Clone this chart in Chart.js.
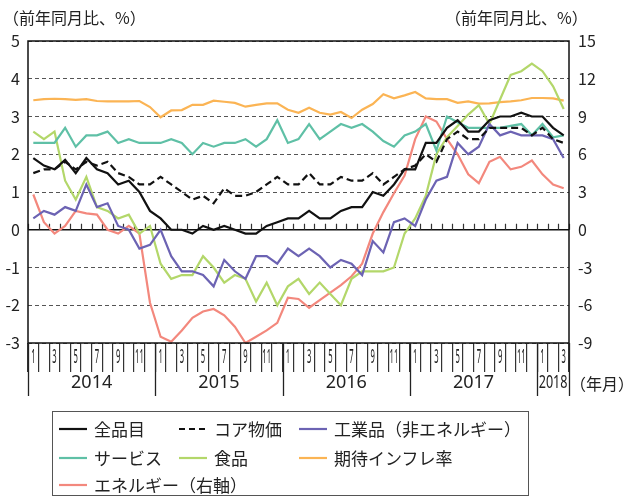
<!DOCTYPE html>
<html lang="ja">
<head>
<meta charset="utf-8">
<script src="https://cdn.jsdelivr.net/npm/chart.js@4/dist/chart.umd.min.js"></script>
<style>
  html, body { margin: 0; padding: 0; background: #fff; }
  #wrap { position: relative; width: 641px; height: 497px; font-family: "Noto Sans CJK JP", "Noto Sans", sans-serif; color: #222; }
  #wrap canvas { position: absolute; left: 0; top: 0; }
  .ttl { position: absolute; font-size: 16px; line-height: 20px; white-space: nowrap; color: #222; }
  #legend { position: absolute; left: 52px; top: 411px; width: 475px; height: 83px; border: 1px solid #555; box-sizing: content-box; }
  .li { position: absolute; height: 20px; display: flex; align-items: center; font-size: 17px; line-height: 20px; white-space: nowrap; color: #222; }
  .li svg { margin-right: 7px; }
</style>
</head>
<body>
<div id="wrap">
  <canvas id="c" width="641" height="497"></canvas>
  <div class="ttl" style="left:3px; top:7px;">（前年同月比、%）</div>
  <div class="ttl" style="left:445px; top:7px;">（前年同月比、%）</div>
  <div class="ttl" style="left:570px; top:373px;">（年月）</div>
  <div id="legend"></div>
</div>
<script>
// ---- categories (year-month) ----
const categories = [
  '2014-01','2014-02','2014-03','2014-04','2014-05','2014-06','2014-07','2014-08','2014-09','2014-10','2014-11','2014-12',
  '2015-01','2015-02','2015-03','2015-04','2015-05','2015-06','2015-07','2015-08','2015-09','2015-10','2015-11','2015-12',
  '2016-01','2016-02','2016-03','2016-04','2016-05','2016-06','2016-07','2016-08','2016-09','2016-10','2016-11','2016-12',
  '2017-01','2017-02','2017-03','2017-04','2017-05','2017-06','2017-07','2017-08','2017-09','2017-10','2017-11','2017-12',
  '2018-01','2018-02','2018-03'
];
const yearLabels = ['2014','2015','2016','2017','2018'];

// ---- series (left axis, %) ----
const allItems = [1.9,1.7,1.6,1.85,1.5,1.9,1.6,1.5,1.2,1.3,1.0,0.5,
  0.3,0.0,0.0,-0.1,0.1,0.0,0.1,0.0,-0.1,-0.1,0.1,0.2,
  0.3,0.3,0.5,0.3,0.3,0.5,0.6,0.6,1.0,0.9,1.2,1.6,
  1.6,2.3,2.3,2.7,2.9,2.6,2.6,2.9,3.0,3.0,3.1,3.0,
  3.0,2.7,2.5];
const corePrices = [1.5,1.6,1.6,1.8,1.6,1.8,1.7,1.8,1.5,1.4,1.2,1.2,
  1.4,1.2,1.0,0.8,0.9,0.7,1.1,0.9,0.9,1.0,1.2,1.4,
  1.2,1.2,1.5,1.2,1.2,1.4,1.3,1.3,1.5,1.2,1.4,1.6,
  1.7,2.0,1.8,2.4,2.6,2.4,2.4,2.7,2.7,2.7,2.7,2.5,
  2.7,2.4,2.3];
const industrial = [0.3,0.5,0.4,0.6,0.5,1.2,0.6,0.7,0.1,0.0,-0.5,-0.4,
  0.0,-0.7,-1.1,-1.1,-1.2,-1.5,-0.8,-1.1,-1.3,-0.7,-0.7,-0.9,
  -0.5,-0.7,-0.5,-0.7,-1.0,-0.8,-0.9,-1.2,-0.3,-0.6,0.2,0.3,
  0.1,0.8,1.3,1.4,2.3,2.0,2.2,2.8,2.5,2.6,2.5,2.5,
  2.5,2.4,1.9];
const services = [2.3,2.3,2.3,2.7,2.2,2.5,2.5,2.6,2.3,2.4,2.3,2.3,
  2.3,2.4,2.3,2.0,2.3,2.2,2.3,2.3,2.4,2.2,2.4,2.9,
  2.3,2.4,2.8,2.4,2.6,2.8,2.7,2.8,2.6,2.35,2.2,2.5,
  2.6,2.8,2.1,3.0,2.85,2.7,2.7,2.7,2.7,2.75,2.8,2.5,
  2.8,2.45,2.5];
const food = [2.6,2.4,2.6,1.3,0.8,1.4,0.6,0.5,0.3,0.4,-0.1,0.1,
  -0.9,-1.3,-1.2,-1.2,-0.7,-1.0,-1.4,-1.2,-1.3,-1.9,-1.4,-2.0,
  -1.5,-1.3,-1.7,-1.4,-1.7,-2.0,-1.3,-1.1,-1.1,-1.1,-1.0,-0.1,
  0.3,0.9,2.0,2.45,2.75,3.05,3.3,2.8,3.45,4.1,4.2,4.4,
  4.2,3.8,3.2];
const expectedInflation = [3.43,3.46,3.47,3.46,3.44,3.46,3.41,3.4,3.4,3.4,3.41,3.25,
  2.98,3.16,3.17,3.31,3.31,3.42,3.39,3.36,3.26,3.31,3.35,3.35,
  3.18,3.1,3.23,3.1,3.05,3.12,2.96,3.18,3.33,3.59,3.48,3.56,
  3.65,3.48,3.46,3.46,3.36,3.4,3.34,3.35,3.38,3.4,3.43,3.49,
  3.49,3.48,3.42];
// ---- series (right axis, %) ----
const energy = [2.8,0.6,-0.3,0.3,1.5,1.3,1.2,0.0,-0.3,0.3,-0.3,-5.8,
  -8.5,-8.9,-8.0,-7.0,-6.5,-6.3,-6.8,-7.7,-9.0,-8.5,-8.0,-7.4,
  -5.4,-5.5,-6.2,-5.6,-5.0,-4.4,-3.7,-2.7,-0.3,1.4,2.9,4.3,
  7.2,9.0,8.6,7.2,6.0,4.4,3.7,5.4,5.8,4.8,5.0,5.5,
  4.4,3.6,3.3];

const seriesNames = ['全品目','コア物価','工業品（非エネルギー）','サービス','食品','期待インフレ率','エネルギー（右軸）'];
const seriesColors = ['#111111','#111111','#6c63b3','#5fc0a6','#b3d76a','#fbb454','#f3887d'];

const FONT = '"Noto Sans CJK JP", "Noto Sans", sans-serif';

const decor = {
  id: 'decor',
  beforeDatasetsDraw(chart) {
    const {ctx, chartArea: ca, scales} = chart;
    const xs = scales.x, ys = scales.y;
    const y0 = ys.getPixelForValue(0);
    const half = (xs.getPixelForValue(1) - xs.getPixelForValue(0)) / 2;
    ctx.save();
    ctx.strokeStyle = '#111';
    ctx.lineWidth = 1.5;
    ctx.beginPath();
    ctx.moveTo(ca.left, y0); ctx.lineTo(ca.right, y0);
    ctx.stroke();
    ctx.lineWidth = 1.2;
    ctx.strokeStyle = '#333';
    ctx.beginPath();
    for (let i = 0; i <= categories.length; i++) {
      const bx = Math.round(xs.getPixelForValue(i) - half) + 0.5;
      ctx.moveTo(bx, y0); ctx.lineTo(bx, y0 - 6);
    }
    ctx.stroke();
    ctx.restore();
  },
  afterDraw(chart) {
    const {ctx, chartArea: ca, scales} = chart;
    const xs = scales.x;
    const half = (xs.getPixelForValue(1) - xs.getPixelForValue(0)) / 2;
    ctx.save();
    // frame
    ctx.strokeStyle = '#111';
    ctx.lineWidth = 1.5;
    ctx.strokeRect(ca.left, ca.top, ca.right - ca.left, ca.bottom - ca.top);
    // month labels (odd months), condensed
    ctx.fillStyle = '#222';
    ctx.font = '19px "Noto Sans", sans-serif';
    ctx.textAlign = 'center';
    ctx.textBaseline = 'middle';
    categories.forEach((c, i) => {
      const m = parseInt(c.split('-')[1], 10);
      if (m % 2 === 1) {
        const px = xs.getPixelForValue(i);
        ctx.save();
        ctx.translate(px, ca.bottom + 15);
        ctx.scale(0.4, 1);
        ctx.fillText(String(m), 0, 0);
        ctx.restore();
      }
    });
    // year separators and labels
    const starts = [];
    categories.forEach((c, i) => { if (i === 0 || c.slice(0,4) !== categories[i-1].slice(0,4)) starts.push(i); });
    const bounds = starts.concat([categories.length]);
    ctx.strokeStyle = '#222';
    ctx.lineWidth = 1.3;
    ctx.beginPath();
    bounds.forEach(b => {
      const bx = Math.round(xs.getPixelForValue(b) - half) + 0.5;
      ctx.moveTo(bx, ca.bottom); ctx.lineTo(bx, ca.bottom + 53);
    });
    ctx.stroke();
    ctx.font = '18px "Noto Sans", sans-serif';
    for (let k = 0; k < starts.length; k++) {
      const a = xs.getPixelForValue(bounds[k]) - half;
      const b = xs.getPixelForValue(bounds[k+1]) - half;
      const cx = (a + b) / 2;
      const w = ctx.measureText(yearLabels[k]).width;
      const avail = b - a - 3;
      ctx.save();
      ctx.translate(cx, ca.bottom + 40);
      if (w > avail) ctx.scale(avail / w, 1);
      ctx.fillText(yearLabels[k], 0, 0);
      ctx.restore();
    }
    ctx.restore();
  }
};

const seriesData = [allItems, corePrices, industrial, services, food, expectedInflation, energy];
const datasets = seriesData.map((d, i) => ({
  label: seriesNames[i],
  data: d,
  borderColor: seriesColors[i],
  backgroundColor: seriesColors[i],
  borderWidth: 2.2,
  borderDash: i === 1 ? [7, 4] : [],
  pointRadius: 0,
  tension: 0,
  fill: false,
  yAxisID: i === 6 ? 'y2' : 'y'
}));

new Chart(document.getElementById('c'), {
  type: 'line',
  data: { labels: categories, datasets },
  plugins: [decor],
  options: {
    responsive: false,
    animation: false,
    events: [],
    layout: { padding: { top: 41, left: 0, right: 0, bottom: 0 } },
    plugins: { legend: { display: false }, tooltip: { enabled: false }, title: { display: false } },
    scales: {
      x: {
        type: 'category',
        offset: true,
        grid: { offset: true, drawOnChartArea: false, drawTicks: true, tickLength: 29, color: '#333', lineWidth: 1.2 },
        border: { display: false },
        ticks: { display: false, autoSkip: false },
        afterFit(s) { s.height = 154; }
      },
      y: {
        position: 'left',
        min: -3, max: 5,
        ticks: { stepSize: 1, padding: 8, color: '#222', font: { family: FONT, size: 16 } },
        grid: { drawTicks: false, color: '#555', lineWidth: 1 },
        border: { display: false, dash: [4, 3] },
        afterFit(s) { s.width = 28; }
      },
      y2: {
        position: 'right',
        min: -9, max: 15,
        ticks: { stepSize: 3, padding: 9, color: '#222', font: { family: FONT, size: 16 } },
        grid: { display: false, drawOnChartArea: false, drawTicks: false },
        border: { display: false },
        afterFit(s) { s.width = 72; }
      }
    }
  }
});

// HTML legend
const legendPos = [
  [6, 7], [126, 7], [246, 7],
  [6, 36], [126, 36], [246, 36],
  [6, 63]
];
const lg = document.getElementById('legend');
seriesNames.forEach((n, i) => {
  const el = document.createElement('div');
  el.className = 'li';
  el.style.left = legendPos[i][0] + 'px';
  el.style.top = legendPos[i][1] + 'px';
  const dash = i === 1 ? ' stroke-dasharray="6 4"' : '';
  el.innerHTML = '<svg width="28" height="6"><line x1="0" y1="3" x2="28" y2="3" stroke="' + seriesColors[i] + '" stroke-width="2.2"' + dash + '/></svg><span>' + n + '</span>';
  lg.appendChild(el);
});
</script>
</body>
</html>
